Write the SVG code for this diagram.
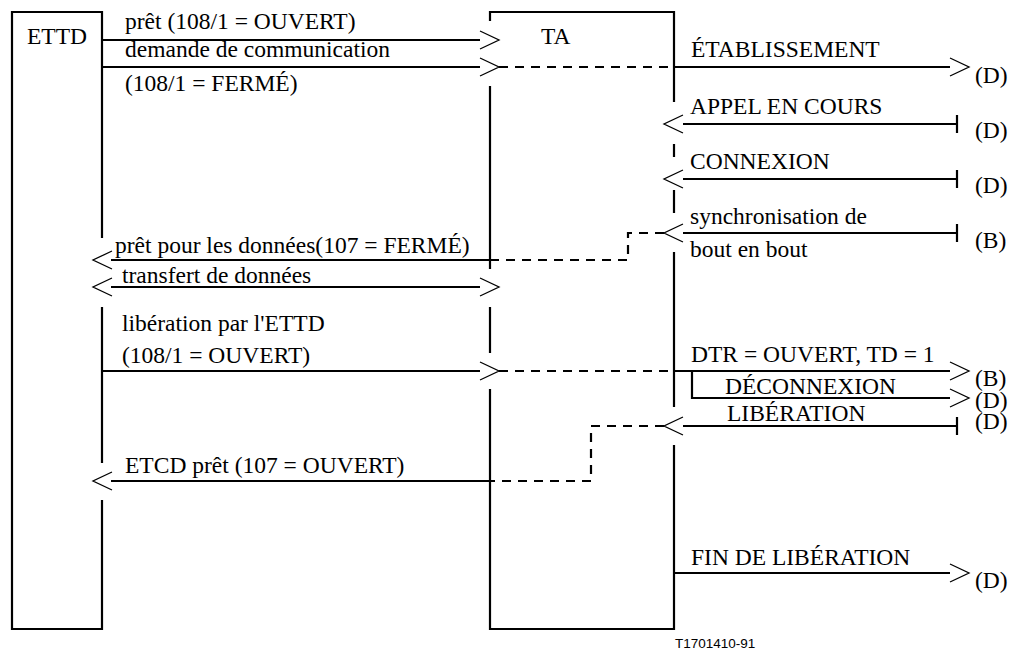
<svg xmlns="http://www.w3.org/2000/svg" xmlns:xlink="http://www.w3.org/1999/xlink" width="1020" height="652" viewBox="0 0 1020 652">
  <style>
    .ln { stroke: #000; stroke-width: 2.2; fill: none; }
    .dash { stroke-dasharray: 9 7; }
    .hd { stroke: #000; stroke-width: 1.3; fill: none; }
    .t { font-family: 'Liberation Serif', 'Times New Roman', serif; font-size: 23.5px; fill: #000; }
    .ref { font-family: 'Liberation Sans', Arial, sans-serif; font-size: 13.5px; fill: #000; }
  </style>
  <defs>
    <!-- open chevron heads, tip at origin -->
    <path id="chevR" class="hd" d="M-19,-9 L0,0 L-19,9"/>
    <path id="chevL" class="hd" d="M19,-9 L0,0 L19,9"/>
    <!-- bar terminator -->
    <path id="bar" class="ln" d="M0,-9 L0,9"/>
  </defs>

  <rect width="1020" height="652" fill="#fff"/>

  <!-- ETTD column -->
  <g id="ettd">
    <path class="ln" d="M102,238 L102,12 L12,12 L12,629 L102,629 L102,500 M102,463 L102,307"/>
    <text class="t" x="27" y="44">ETTD</text>
  </g>

  <!-- TA column -->
  <g id="ta">
    <path class="ln" d="M490,21 L490,12 L674,12 L674,102 M674,144 L674,157 M674,190 L674,213 M674,252 L674,407 M674,445 L674,629 L490,629 L490,389 M490,353 L490,307 M490,269 L490,86"/>
    <text class="t" x="541" y="44">TA</text>
  </g>

  <!-- signals -->
  <g id="connectors">
    <!-- prêt -->
    <path class="ln" d="M102,40 L480,40"/>
    <use xlink:href="#chevR" x="499" y="40"/>
    <!-- demande de communication / établissement -->
    <path class="ln" d="M102,67 L480,67"/>
    <use xlink:href="#chevR" x="499" y="67"/>
    <path class="ln dash" d="M499,67 L674,67"/>
    <path class="ln" d="M674,67 L950,67"/>
    <use xlink:href="#chevR" x="969" y="67"/>
    <!-- appel en cours -->
    <path class="ln" d="M683,124 L957,124"/>
    <use xlink:href="#bar" x="957" y="124"/>
    <use xlink:href="#chevL" x="664" y="124"/>
    <!-- connexion -->
    <path class="ln" d="M683,179 L957,179"/>
    <use xlink:href="#bar" x="957" y="179"/>
    <use xlink:href="#chevL" x="664" y="179"/>
    <!-- synchronisation / prêt pour les données -->
    <path class="ln" d="M683,233 L957,233"/>
    <use xlink:href="#bar" x="957" y="233"/>
    <use xlink:href="#chevL" x="664" y="233"/>
    <path class="ln dash" d="M664,233 L628,233 L628,260 L490,260"/>
    <path class="ln" d="M490,260 L111,260"/>
    <use xlink:href="#chevL" x="93" y="260"/>
    <!-- transfert de données -->
    <path class="ln" d="M111,287 L480,287"/>
    <use xlink:href="#chevL" x="93" y="287"/>
    <use xlink:href="#chevR" x="499" y="287"/>
    <!-- libération par l'ETTD / DTR -->
    <path class="ln" d="M102,371 L480,371"/>
    <use xlink:href="#chevR" x="499" y="371"/>
    <path class="ln dash" d="M499,371 L674,371"/>
    <path class="ln" d="M674,371 L950,371"/>
    <use xlink:href="#chevR" x="969" y="371"/>
    <!-- déconnexion -->
    <path class="ln" d="M692,371 L692,398 L950,398"/>
    <use xlink:href="#chevR" x="969" y="398"/>
    <!-- libération / ETCD prêt -->
    <path class="ln" d="M683,426 L957,426"/>
    <use xlink:href="#bar" x="957" y="426"/>
    <use xlink:href="#chevL" x="664" y="426"/>
    <path class="ln dash" d="M664,426 L591,426 L591,481 L490,481"/>
    <path class="ln" d="M490,481 L111,481"/>
    <use xlink:href="#chevL" x="93" y="481"/>
    <!-- fin de libération -->
    <path class="ln" d="M674,573 L950,573"/>
    <use xlink:href="#chevR" x="969" y="573"/>
  </g>

  <!-- signal labels -->
  <g id="labels">
    <text class="t" x="125" y="29">prêt (108/1 = OUVERT)</text>
    <text class="t" x="125" y="57">demande de communication</text>
    <text class="t" x="125" y="91">(108/1 = FERMÉ)</text>
    <text class="t" x="691" y="57">ÉTABLISSEMENT</text>
    <text class="t" x="690" y="114">APPEL EN COURS</text>
    <text class="t" x="690" y="169">CONNEXION</text>
    <text class="t" x="690" y="224">synchronisation de</text>
    <text class="t" x="690" y="257">bout en bout</text>
    <text class="t" x="115" y="253">prêt pour les données(107 = FERMÉ)</text>
    <text class="t" x="122" y="283">transfert de données</text>
    <text class="t" x="122" y="331">libération par l'ETTD</text>
    <text class="t" x="122" y="363">(108/1 = OUVERT)</text>
    <text class="t" x="691" y="362">DTR = OUVERT, TD = 1</text>
    <text class="t" x="725" y="394">DÉCONNEXION</text>
    <text class="t" x="727" y="421">LIBÉRATION</text>
    <text class="t" x="125" y="473">ETCD prêt (107 = OUVERT)</text>
    <text class="t" x="691" y="565">FIN DE LIBÉRATION</text>
    <text class="t" x="975" y="83">(D)</text>
    <text class="t" x="975" y="138">(D)</text>
    <text class="t" x="975" y="193">(D)</text>
    <text class="t" x="975" y="248">(B)</text>
    <text class="t" x="975" y="386">(B)</text>
    <text class="t" x="975" y="408">(D)</text>
    <text class="t" x="975" y="429">(D)</text>
    <text class="t" x="975" y="588">(D)</text>
    <text class="ref" x="675" y="648">T1701410-91</text>
  </g>
</svg>
